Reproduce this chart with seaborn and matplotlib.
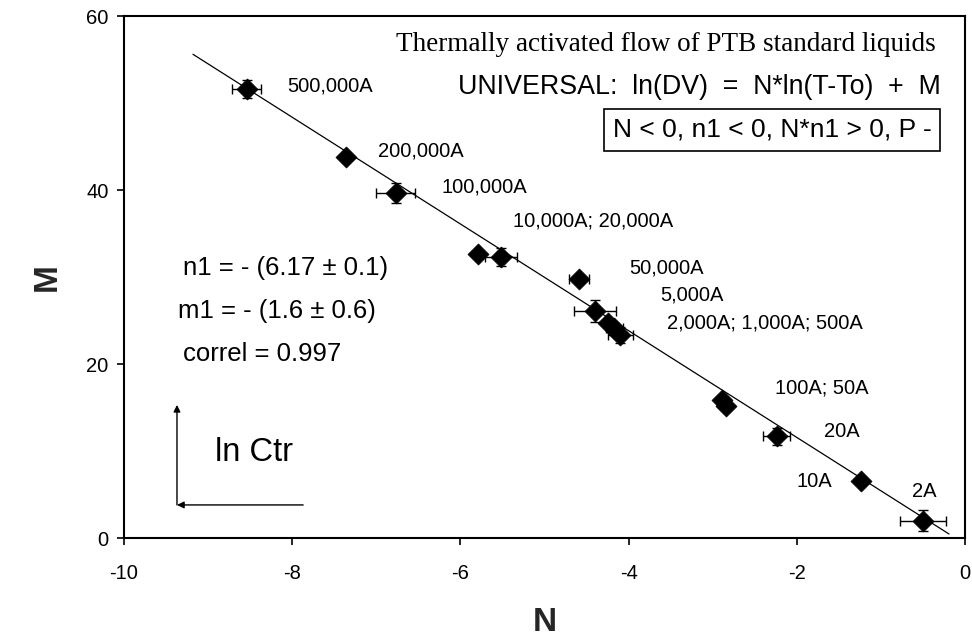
import numpy as np
import pandas as pd
import matplotlib
matplotlib.use("Agg")
import matplotlib.pyplot as plt
import seaborn as sns

# ---- data ----
liquids = ["500,000A", "200,000A", "100,000A", "10,000A", "20,000A", "50,000A",
           "5,000A", "2,000A", "1,000A", "500A", "100A", "50A", "20A", "10A", "2A"]
N_vals = [-8.54, -7.36, -6.77, -5.79, -5.52, -4.59, -4.40, -4.24, -4.17, -4.10,
          -2.885, -2.84, -2.24, -1.24, -0.50]
M_vals = [51.6, 43.8, 39.7, 32.6, 32.3, 29.8, 26.1, 24.7, 24.1, 23.3,
          15.9, 15.2, 11.7, 6.6, 2.0]
N_err = [0.17, 0.0, 0.23, 0.0, 0.19, 0.12, 0.25, 0.0, 0.10, 0.15,
         0.0, 0.0, 0.16, 0.0, 0.27]
M_err = [1.0, 0.0, 1.15, 0.0, 1.0, 0.0, 1.25, 0.0, 0.6, 0.9,
         0.0, 0.0, 1.0, 0.0, 1.2]

fit_N = [-9.18, -0.19]
fit_M = [55.6, 0.46]

label_texts = ["500,000A", "200,000A", "100,000A", "10,000A; 20,000A", "50,000A",
               "5,000A", "2,000A; 1,000A; 500A", "100A; 50A", "20A", "10A", "2A"]
label_N = [-8.06, -6.98, -6.23, -5.37, -3.99, -3.62, -3.54, -2.26, -1.68, -2.00, -0.63]
label_M = [51.9, 44.5, 40.4, 36.4, 31.0, 27.9, 24.7, 17.2, 12.2, 6.5, 5.4]

x_ticks = [-10, -8, -6, -4, -2, 0]
y_ticks = [0, 20, 40, 60]

title_text = "Thermally activated flow of PTB standard liquids"
model_text = "UNIVERSAL:  ln(DV)  =  N*ln(T-To)  +  M"
box_text = "N < 0, n1 < 0, N*n1 > 0, P -"
stats_texts = ["n1 = - (6.17 \u00b1 0.1)", "m1 = - (1.6 \u00b1 0.6)", "correl = 0.997"]
corner_text = "ln Ctr"

df = pd.DataFrame({"liquid": liquids, "N": N_vals, "M": M_vals,
                   "N_err": N_err, "M_err": M_err})
fit_df = pd.DataFrame({"N": fit_N, "M": fit_M})

# ---- style ----
sns.set_theme(style="ticks")
plt.rcParams["font.family"] = ["Liberation Sans", "DejaVu Sans"]
plt.rcParams["axes.linewidth"] = 1.5
plt.rcParams["xtick.major.width"] = 1.2
plt.rcParams["ytick.major.width"] = 1.2
plt.rcParams["xtick.major.size"] = 5
plt.rcParams["ytick.major.size"] = 5

fig = plt.figure(figsize=(9.72, 6.40), dpi=100)
ax = fig.add_axes([124 / 972, 1 - 538 / 640, (965 - 124) / 972, (538 - 16) / 640])
ax.set_facecolor("white")
fig.patch.set_facecolor("white")

# fit line
sns.lineplot(data=fit_df, x="N", y="M", ax=ax, color="black", linewidth=0.9,
             sort=False, legend=False)

# error bars
has_err = df[(df["N_err"] > 0) | (df["M_err"] > 0)]
ax.errorbar(has_err["N"], has_err["M"], xerr=has_err["N_err"], yerr=has_err["M_err"],
            fmt="none", ecolor="black", elinewidth=1.0, capsize=3.5, capthick=1.0,
            zorder=3)

# markers
sns.scatterplot(data=df, x="N", y="M", ax=ax, marker="D", s=115, color="black",
                edgecolor="black", linewidth=0.5, zorder=4, legend=False)

# point labels
for t, xn, ym in zip(label_texts, label_N, label_M):
    ax.text(xn, ym, t, fontsize=14.5, ha="left", va="center", color="black")

# header texts
ax.text(-0.35, 56.7, title_text,
        family=["Liberation Serif", "DejaVu Serif"], fontsize=19.5,
        ha="right", va="center", color="black")
ax.text(-0.29, 51.8, model_text, fontsize=19.3, ha="right", va="center", color="black")
ax.text(-2.29, 46.9, box_text, fontsize=19, ha="center", va="center", color="black",
        bbox=dict(boxstyle="square,pad=0.33", facecolor="white", edgecolor="black",
                  linewidth=1.2))

# statistics
stats_N = [-9.30, -9.36, -9.30]
stats_M = [31.0, 26.1, 21.1]
for t, xn, ym in zip(stats_texts, stats_N, stats_M):
    ax.text(xn, ym, t, fontsize=18.5, ha="left", va="center", color="black")

# corner arrows
ax.annotate("", xy=(-9.37, 15.3), xytext=(-9.37, 3.8),
            arrowprops=dict(arrowstyle="-|>", color="black", lw=1.0,
                            mutation_scale=10, shrinkA=0, shrinkB=0))
ax.annotate("", xy=(-9.37, 3.8), xytext=(-7.87, 3.8),
            arrowprops=dict(arrowstyle="-|>", color="black", lw=1.0,
                            mutation_scale=10, shrinkA=0, shrinkB=0))
ax.text(-8.92, 9.8, corner_text, fontsize=23.5, ha="left", va="center", color="black")

# axes
ax.set_xlim(-10, 0)
ax.set_ylim(0, 60)
ax.set_xticks(x_ticks)
ax.set_yticks(y_ticks)
ax.set_xticklabels([str(v) for v in x_ticks])
ax.set_yticklabels([str(v) for v in y_ticks])
ax.tick_params(axis="both", labelsize=14.5, colors="black", direction="out")
ax.tick_params(axis="x", pad=14)
ax.tick_params(axis="y", pad=6)
for s in ax.spines.values():
    s.set_visible(True)
    s.set_color("black")
ax.set_xlabel("N", fontsize=24, fontweight="bold", labelpad=17)
ax.set_ylabel("M", fontsize=24, fontweight="bold", labelpad=17)
ax.grid(False)

fig.savefig("out.png", dpi=100, facecolor="white")
